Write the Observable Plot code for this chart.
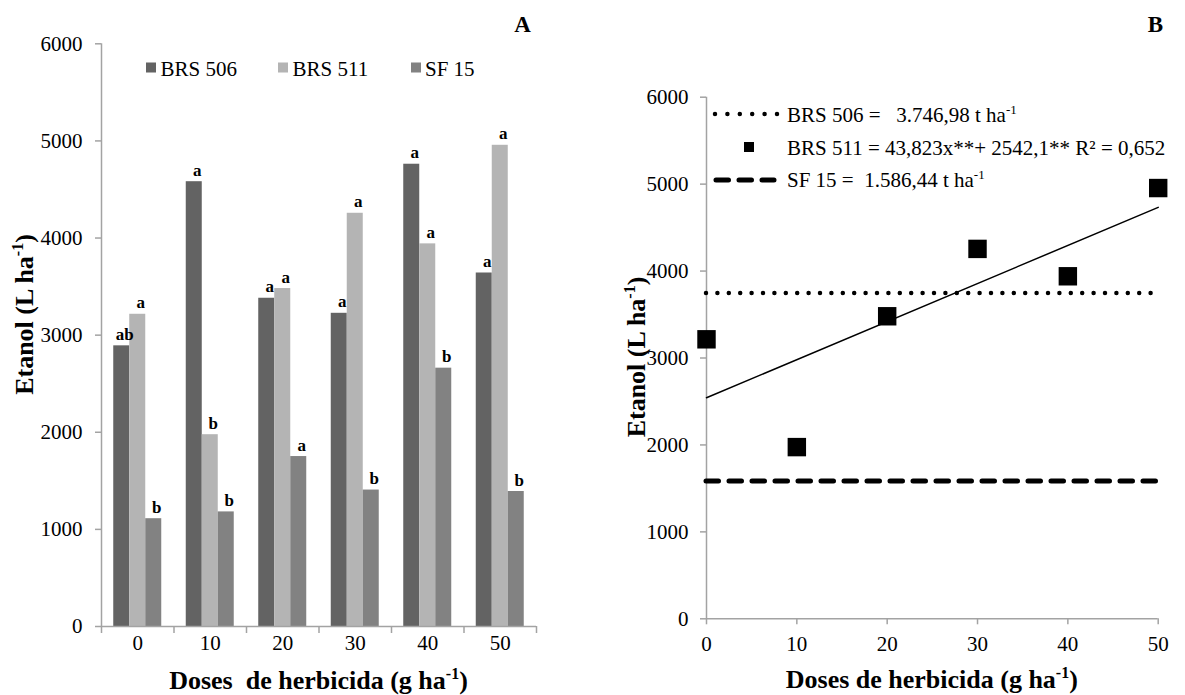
<!DOCTYPE html>
<html>
<head>
<meta charset="utf-8">
<script src="https://cdn.jsdelivr.net/npm/d3@7"></script>
<script src="https://cdn.jsdelivr.net/npm/@observablehq/plot@0.6"></script>
<style>
  html, body { margin: 0; padding: 0; background: #fff; }
  #root { position: relative; width: 1185px; height: 695px; background: #fff; overflow: hidden; font-family: "Liberation Serif", "Times New Roman", Times, serif; }
  #panelA { position: absolute; left: 0; top: 0; }
  #panelB { position: absolute; left: 590px; top: 0; }
  #overlay { position: absolute; left: 0; top: 0; pointer-events: none; }
  #overlay text { font-family: "Liberation Serif", "Times New Roman", Times, serif; white-space: pre; }
  svg.plot text, svg.plot { font-family: "Liberation Serif", "Times New Roman", Times, serif !important; }
</style>
</head>
<body>
<div id="root">
  <div id="panelA"></div>
  <div id="panelB"></div>
  <svg id="overlay" width="1185" height="695" xmlns="http://www.w3.org/2000/svg">
    <!-- panel letters -->
    <text x="522.5" y="31.5" text-anchor="middle" font-weight="bold" font-size="23">A</text>
    <text x="1155.5" y="31.5" text-anchor="middle" font-weight="bold" font-size="23">B</text>
    <!-- panel A legend -->
    <rect x="146" y="62.5" width="10" height="10" fill="#636363"/>
    <text x="160.5" y="76" font-size="21">BRS 506</text>
    <rect x="278" y="62.5" width="10" height="10" fill="#b4b4b4"/>
    <text x="292.5" y="76" font-size="21">BRS 511</text>
    <rect x="411" y="62.5" width="10" height="10" fill="#828282"/>
    <text x="425" y="76" font-size="21">SF 15</text>
    <!-- panel A axis titles -->
    <text x="318.5" y="689" text-anchor="middle" font-weight="bold" font-size="26">Doses  de herbicida (g ha<tspan dy="-10" font-size="16">-1</tspan><tspan dy="10">)</tspan></text>
    <text transform="translate(33,314.5) rotate(-90)" text-anchor="middle" font-weight="bold" font-size="26">Etanol (L ha<tspan dy="-10" font-size="16">-1</tspan><tspan dy="10">)</tspan></text>
    <!-- panel B axis titles -->
    <text x="931.8" y="688" text-anchor="middle" font-weight="bold" font-size="26">Doses de herbicida (g ha<tspan dy="-10" font-size="16">-1</tspan><tspan dy="10">)</tspan></text>
    <text transform="translate(645,357) rotate(-90)" text-anchor="middle" font-weight="bold" font-size="26">Etanol (L ha<tspan dy="-10" font-size="16">-1</tspan><tspan dy="10">)</tspan></text>
    <!-- panel B legend -->
    <line x1="715" y1="114" x2="777" y2="114" stroke="#000" stroke-width="4.5" stroke-linecap="round" stroke-dasharray="0,12.4"/>
    <text x="787" y="122" font-size="21">BRS 506 =   3.746,98 t ha<tspan dy="-8" font-size="13">-1</tspan></text>
    <rect x="744" y="142" width="10" height="10" fill="#000"/>
    <text x="787" y="154.5" font-size="21">BRS 511 = 43,823x**+ 2542,1** R² = 0,652</text>
    <line x1="716" y1="180" x2="774" y2="180" stroke="#000" stroke-width="5" stroke-linecap="round" stroke-dasharray="12.5,10.5"/>
    <text x="787" y="187" font-size="21">SF 15 =  1.586,44 t ha<tspan dy="-8" font-size="13">-1</tspan></text>
  </svg>
</div>
<script>
// ---------- data ----------
const doses = [0, 10, 20, 30, 40, 50];
const seriesNames = ["BRS 506", "BRS 511", "SF 15"];
const brs506 = [2890, 4580, 3380, 3225, 4760, 3640];
const brs511 = [3215, 1975, 3480, 4255, 3940, 4955];
const sf15 = [1110, 1180, 1750, 1405, 2660, 1390];
const lettersBRS506 = ["ab", "a", "a", "a", "a", "a"];
const lettersBRS511 = ["a", "b", "a", "a", "a", "a"];
const lettersSF15 = ["b", "b", "a", "b", "b", "b"];
const brs506Mean = 3746.98;
const sf15Mean = 1586.44;
const trendX = [0, 50];
const trendY = [2542.1, 4733.3];
const yTicks = [0, 1000, 2000, 3000, 4000, 5000, 6000];

// ---------- styles ----------
const colors = ["#636363", "#b4b4b4", "#828282"];
const axisGray = "#a3a3a3";
const font = "'Liberation Serif', 'Times New Roman', Times, serif";

const values = [brs506, brs511, sf15];
const letters = [lettersBRS506, lettersBRS511, lettersSF15];
const seriesRows = seriesNames.map((name, i) =>
  doses.map((d, j) => ({series: name, dose: d, value: values[i][j], letter: letters[i][j]}))
);

// ---------- Panel A: grouped bars ----------
const catPx = 72.5, groupOffset = 12.25, barPx = 16;
const boundaries = [doses[0] - 5, ...doses.map(d => d + 5)];

const marksA = [];
seriesRows.forEach((rows, i) => {
  marksA.push(Plot.rect(rows, {
    x1: d => d.dose - 5, x2: d => d.dose + 5,
    y1: 0, y2: "value",
    fill: colors[i],
    insetLeft: groupOffset + barPx * i,
    insetRight: catPx - groupOffset - barPx * (i + 1)
  }));
});
seriesRows.forEach((rows, i) => {
  marksA.push(Plot.text(rows, {
    x: "dose", y: "value", text: "letter",
    dx: (i - 1) * barPx + 3, dy: -6, lineAnchor: "bottom",
    fontWeight: "bold", fontSize: 17, fill: "black"
  }));
});
marksA.push(
  Plot.ruleX([boundaries[0]], {stroke: axisGray, strokeWidth: 1.5}),
  Plot.ruleY([0], {stroke: axisGray, strokeWidth: 1.5}),
  Plot.axisY({ticks: yTicks, tickSize: 6, tickPadding: 13, stroke: axisGray, strokeWidth: 1.5, fill: "black", label: null, tickFormat: d => String(d)}),
  Plot.axisX({ticks: boundaries, tickSize: 7, tickPadding: 0, stroke: axisGray, strokeWidth: 1.5, tickFormat: () => "", label: null}),
  Plot.axisX({ticks: doses, tickSize: 0, tickPadding: 9, fill: "black", label: null, tickFormat: d => String(d)})
);

const plotA = Plot.plot({
  width: 590, height: 695,
  marginLeft: 101, marginRight: 54, marginTop: 43.3, marginBottom: 69,
  x: {type: "linear", domain: [boundaries[0], boundaries[boundaries.length - 1]]},
  y: {domain: [0, 6000]},
  style: {fontFamily: font, fontSize: "21px", color: "black", background: "white", overflow: "visible"},
  marks: marksA
});
document.getElementById("panelA").appendChild(plotA);

// ---------- Panel B: scatter + lines ----------
const points = doses.map((d, j) => ({dose: d, value: brs511[j]}));
const trend = trendX.map((x, k) => ({dose: x, value: trendY[k]}));

const plotB = Plot.plot({
  width: 595, height: 695,
  marginLeft: 116, marginRight: 27.3, marginTop: 96.7, marginBottom: 76.7,
  x: {domain: [doses[0], doses[doses.length - 1]]},
  y: {domain: [0, 6000]},
  style: {fontFamily: font, fontSize: "21px", color: "black", background: "white", overflow: "visible"},
  marks: [
    Plot.ruleX([doses[0]], {stroke: axisGray, strokeWidth: 1.5}),
    Plot.ruleY([0], {stroke: axisGray, strokeWidth: 1.5}),
    Plot.axisY({ticks: yTicks, tickSize: 6, tickPadding: 12, stroke: axisGray, strokeWidth: 1.5, fill: "black", label: null, tickFormat: d => String(d)}),
    Plot.axisX({ticks: doses, tickSize: 6, tickPadding: 11, stroke: axisGray, strokeWidth: 1.5, fill: "black", label: null, tickFormat: d => String(d)}),
    Plot.ruleY([brs506Mean], {stroke: "black", strokeWidth: 4.5, strokeLinecap: "round", strokeDasharray: "0,11.4"}),
    Plot.ruleY([sf15Mean], {stroke: "black", strokeWidth: 5, strokeLinecap: "round", strokeDasharray: "12.5,10.5"}),
    Plot.line(trend, {x: "dose", y: "value", stroke: "black", strokeWidth: 1.5}),
    Plot.dot(points, {x: "dose", y: "value", symbol: "square", r: 10.4, fill: "black", stroke: "none"})
  ]
});
document.getElementById("panelB").appendChild(plotB);
</script>
</body>
</html>
